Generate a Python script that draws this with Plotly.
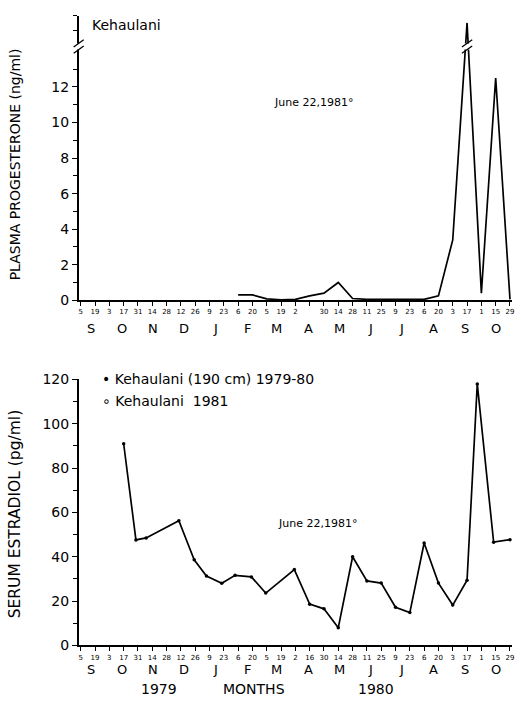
import plotly.graph_objects as go

# Sampling calendar (every two weeks), Sep 1979 - Oct 1980
tick_dates = ["1979-09-05", "1979-09-19", "1979-10-03", "1979-10-17", "1979-10-31",
              "1979-11-14", "1979-11-28", "1979-12-12", "1979-12-26", "1980-01-09",
              "1980-01-23", "1980-02-06", "1980-02-20", "1980-03-05", "1980-03-19",
              "1980-04-02", "1980-04-16", "1980-04-30", "1980-05-14", "1980-05-28",
              "1980-06-11", "1980-06-25", "1980-07-09", "1980-07-23", "1980-08-06",
              "1980-08-20", "1980-09-03", "1980-09-17", "1980-10-01", "1980-10-15",
              "1980-10-29"]
tick_text = ["5", "19", "3", "17", "31", "14", "28", "12", "26", "9", "23", "6", "20",
             "5", "19", "2", "16", "30", "14", "28", "11", "25", "9", "23", "6", "20",
             "3", "17", "1", "15", "29"]
# upper panel leaves the Apr 16 label out
tick_text_top = ["5", "19", "3", "17", "31", "14", "28", "12", "26", "9", "23", "6", "20",
                 "5", "19", "2", "", "30", "14", "28", "11", "25", "9", "23", "6", "20",
                 "3", "17", "1", "15", "29"]

month_letters = ["S", "O", "N", "D", "J", "F", "M", "A", "M", "J", "J", "A", "S", "O"]
month_centers = ["1979-09-15", "1979-10-15", "1979-11-15", "1979-12-15", "1980-01-15",
                 "1980-02-15", "1980-03-15", "1980-04-15", "1980-05-15", "1980-06-15",
                 "1980-07-15", "1980-08-15", "1980-09-15", "1980-10-15"]

# Plasma progesterone (ng/ml); the Sep 17 value runs off the broken scale
prog_dates = ["1980-02-06", "1980-02-20", "1980-03-05", "1980-03-19", "1980-04-02",
              "1980-04-16", "1980-04-30", "1980-05-14", "1980-05-28", "1980-06-11",
              "1980-06-25", "1980-07-09", "1980-07-23", "1980-08-06", "1980-08-20",
              "1980-09-03", "1980-09-17", "1980-10-01", "1980-10-15", "1980-10-29"]
prog_values = [0.3, 0.3, 0.08, 0.03, 0.05, 0.25, 0.4, 1.0, 0.1, 0.05,
               0.05, 0.05, 0.05, 0.05, 0.25, 3.4, 15.6, 0.4, 12.5, 0.05]

# Serum estradiol (pg/ml)
e2_dates = ["1979-10-17", "1979-10-29", "1979-11-08", "1979-12-10", "1979-12-25",
            "1980-01-06", "1980-01-21", "1980-02-03", "1980-02-19", "1980-03-04",
            "1980-04-01", "1980-04-16", "1980-04-30", "1980-05-14", "1980-05-28",
            "1980-06-11", "1980-06-25", "1980-07-09", "1980-07-23", "1980-08-06",
            "1980-08-20", "1980-09-03", "1980-09-17", "1980-09-27", "1980-10-13",
            "1980-10-29"]
e2_values = [91, 47.6, 48.5, 56.3, 38.6, 31.3, 28, 31.6, 30.9, 23.6,
             34.2, 18.6, 16.5, 8, 40, 29.1, 28.1, 17.2, 14.8, 46.2,
             28.1, 18.2, 29.4, 118, 46.6, 47.7]

W, H = 521, 714
FONT = "DejaVu Sans"
INK = "black"


def fx(p):
    return p / W


def fy(p):
    return 1 - p / H


X_RANGE = ["1979-09-03", "1980-10-31"]
X_DOM = [fx(79), fx(514)]
TOP_DOM = [fy(299), fy(8)]
BOT_DOM = [fy(652), fy(380)]
Y_TOP_MAX = 16
BREAK = (14.1, 14.45)


def txt(x, y, text, size, xanchor="center", angle=0):
    return dict(x=fx(x), y=fy(y), xref="paper", yref="paper", text=text,
                showarrow=False, xanchor=xanchor, yanchor="middle", textangle=angle,
                font=dict(family=FONT, size=size, color=INK))


fig = go.Figure()
fig.add_trace(go.Scatter(x=prog_dates, y=prog_values, mode="lines",
                         line=dict(color=INK, width=1.7), xaxis="x", yaxis="y",
                         showlegend=False))
fig.add_trace(go.Scatter(x=e2_dates, y=e2_values, mode="lines+markers",
                         line=dict(color=INK, width=1.7),
                         marker=dict(color=INK, size=3.5),
                         xaxis="x2", yaxis="y2", showlegend=False))

xcommon = dict(range=X_RANGE, domain=X_DOM, type="date", tickvals=tick_dates,
               ticks="outside", ticklen=4, tickwidth=1, tickcolor=INK,
               showline=True, linecolor=INK, linewidth=1.5, showgrid=False,
               zeroline=False, tickangle=0,
               tickfont=dict(family=FONT, size=7, color=INK))
ycommon = dict(ticks="outside", ticklen=5, tickwidth=1, tickcolor=INK,
               showline=True, linecolor=INK, linewidth=1.5, showgrid=False,
               zeroline=False, tickfont=dict(family=FONT, size=14, color=INK))

fig.update_layout(
    width=W, height=H, margin=dict(l=0, r=0, t=0, b=0),
    paper_bgcolor="white", plot_bgcolor="white",
    xaxis=dict(anchor="y", ticktext=tick_text_top, **xcommon),
    yaxis=dict(anchor="x", domain=TOP_DOM, range=[0, Y_TOP_MAX],
               tickvals=[0, 2, 4, 6, 8, 10, 12],
               minor=dict(tickvals=[1, 3, 5, 7, 9, 11, 13, 15.2, 16], ticks="outside",
                          ticklen=4, tickcolor=INK),
               **ycommon),
    xaxis2=dict(anchor="y2", ticktext=tick_text, **xcommon),
    yaxis2=dict(anchor="x2", domain=BOT_DOM, range=[0, 120],
                tickvals=[0, 20, 40, 60, 80, 100, 120],
                minor=dict(tickvals=[10, 30, 50, 70, 90, 110], ticks="outside",
                           ticklen=4, tickcolor=INK),
                **ycommon),
)

shapes = []
# break in the progesterone axis
ax = X_DOM[0]
d = 5 / W
shapes.append(dict(type="rect", xref="paper", yref="y", x0=ax - d, x1=ax + d,
                   y0=BREAK[0], y1=BREAK[1], fillcolor="white", line=dict(width=0),
                   layer="above"))
for y0 in BREAK:
    shapes.append(dict(type="line", xref="paper", yref="y", x0=ax - d, x1=ax + d,
                       y0=y0 - 0.2, y1=y0 + 0.2, line=dict(color=INK, width=1.3),
                       layer="above"))
# matching break on the off-scale September peak
shapes.append(dict(type="rect", xref="x", yref="y", x0="1980-09-13", x1="1980-09-21",
                   y0=BREAK[0], y1=BREAK[1], fillcolor="white", line=dict(width=0),
                   layer="above"))
for y0 in BREAK:
    shapes.append(dict(type="line", xref="x", yref="y", x0="1980-09-12", x1="1980-09-22",
                       y0=y0 - 0.2, y1=y0 + 0.2, line=dict(color=INK, width=1.3),
                       layer="above"))
fig.update_layout(shapes=shapes)

ann = []
# month initials under both axes
for row_y, xr in ((328, "x"), (677, "x2")):
    for letter, pos in zip(month_letters, month_centers):
        ann.append(dict(x=pos, y=fy(row_y), xref=xr, yref="paper", text=letter,
                        showarrow=False, font=dict(family=FONT, size=13, color=INK),
                        xanchor="center", yanchor="middle"))

ann += [
    txt(15, 160, "PLASMA PROGESTERONE (ng/ml)", 14, angle=-90),
    txt(15, 517, "SERUM ESTRADIOL (pg/ml)", 15.5, angle=-90),
    txt(90, 17, "Kehaulani", 14, xanchor="left"),
    txt(273, 97, "June 22,1981°", 11, xanchor="left"),
    txt(277, 527, "June 22,1981°", 11, xanchor="left"),
    txt(100, 380, "• Kehaulani (190 cm) 1979-80", 14, xanchor="left"),
    txt(100, 402, "∘ Kehaulani  1981", 14, xanchor="left"),
    txt(160, 697, "1979", 14),
    txt(255, 697, "MONTHS", 14),
    txt(377, 697, "1980", 14),
]
fig.update_layout(annotations=ann)

fig.write_html("out.html")
